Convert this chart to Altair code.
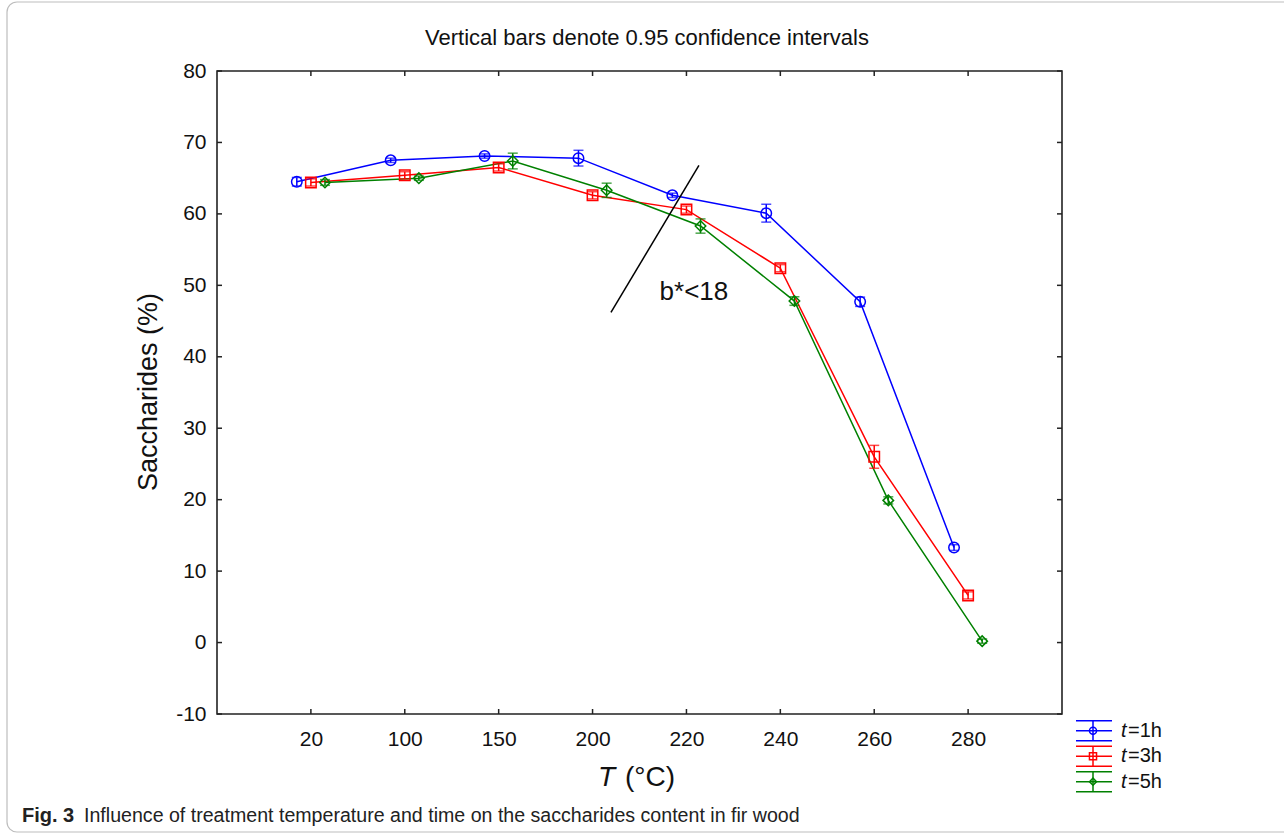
import altair as alt
import pandas as pd

# ---------------- data ----------------
categories = ["20", "100", "150", "200", "220", "240", "260", "280"]
series_names = ["t=1h", "t=3h", "t=5h"]
series_colors = ["#0000FF", "#FF0000", "#008000"]
series_shapes = ["circle", "square", "diamond"]

mean_1h = [64.5, 67.5, 68.1, 67.8, 62.6, 60.1, 47.7, 13.3]
ci_1h = [0.6, 0.3, 0.3, 1.1, 0.3, 1.25, 0.65, 0.4]
mean_3h = [64.4, 65.4, 66.5, 62.6, 60.6, 52.4, 26.0, 6.6]
ci_3h = [0.5, 0.5, 0.5, 0.5, 0.5, 0.5, 1.6, 0.5]
mean_5h = [64.4, 65.0, 67.4, 63.3, 58.3, 47.8, 19.9, 0.2]
ci_5h = [0.4, 0.3, 1.1, 1.0, 1.0, 0.6, 0.5, 0.3]

y_ticks = [-10, 0, 10, 20, 30, 40, 50, 60, 70, 80]

annot_x = [4.196, 5.133]
annot_y = [46.2, 66.8]
annot_label = "b*<18"
annot_label_pos = (5.08, 49.0)

title_text = "Vertical bars denote 0.95 confidence intervals"
caption_bold = "Fig. 3"
caption_text = "Influence of treatment temperature and time on the saccharides content in fir wood"

# ---------------- layout ----------------
W, H = 845, 643
offsets = {"t=1h": -0.15, "t=3h": 0.0, "t=5h": 0.15}
FONT = "Liberation Sans"

rows = []
for name, means, cis in [("t=1h", mean_1h, ci_1h), ("t=3h", mean_3h, ci_3h), ("t=5h", mean_5h, ci_5h)]:
    for i, (m, c) in enumerate(zip(means, cis)):
        rows.append({"series": name, "cat": categories[i], "idx": i + 1,
                     "xpos": i + 1 + offsets[name], "mean": m, "lo": m - c, "hi": m + c})
df = pd.DataFrame(rows)

xscale = alt.Scale(domain=[0, len(categories) + 1], nice=False, zero=False)
yscale = alt.Scale(domain=[-10, 80], nice=False, zero=False)
cscale = alt.Scale(domain=series_names, range=series_colors)
sscale = alt.Scale(domain=series_names, range=series_shapes)

label_arr = "[" + ",".join("'" + c + "'" for c in categories) + "]"
xaxis = alt.Axis(values=list(range(1, len(categories) + 1)), labelExpr=label_arr + "[datum.value-1]",
                 ticks=False, tickSize=0, domain=False, grid=False, title=None,
                 labelFontSize=21, labelFont=FONT, labelColor="#111", labelPadding=14)
yaxis = alt.Axis(values=y_ticks, labelExpr="'' + datum.value", ticks=False, tickSize=0, domain=False,
                 grid=False, title=None,
                 labelFontSize=21, labelFont=FONT, labelColor="#111", labelPadding=11)

X = alt.X("xpos:Q", scale=xscale, axis=xaxis)
base = alt.Chart(df)

lines = base.mark_line(strokeWidth=1.5).encode(
    x=X, y=alt.Y("mean:Q", scale=yscale, axis=yaxis),
    color=alt.Color("series:N", scale=cscale, legend=None), detail="series:N")

bars = base.mark_rule(strokeWidth=1.5).encode(
    x=alt.X("xpos:Q", scale=xscale), y=alt.Y("lo:Q", scale=yscale), y2="hi:Q",
    color=alt.Color("series:N", scale=cscale, legend=None))

cap_lo = base.mark_tick(orient="horizontal", size=10, thickness=1.5).encode(
    x=alt.X("xpos:Q", scale=xscale), y=alt.Y("lo:Q", scale=yscale),
    color=alt.Color("series:N", scale=cscale, legend=None))
cap_hi = base.mark_tick(orient="horizontal", size=10, thickness=1.5).encode(
    x=alt.X("xpos:Q", scale=xscale), y=alt.Y("hi:Q", scale=yscale),
    color=alt.Color("series:N", scale=cscale, legend=None))

points = base.mark_point(filled=False, size=110, strokeWidth=1.5, opacity=1).encode(
    x=alt.X("xpos:Q", scale=xscale), y=alt.Y("mean:Q", scale=yscale),
    color=alt.Color("series:N", scale=cscale, legend=None),
    shape=alt.Shape("series:N", scale=sscale, legend=None))

annot_df = pd.DataFrame({"x": annot_x, "y": annot_y})
annot_line = alt.Chart(annot_df).mark_line(color="black", strokeWidth=1.5).encode(
    x=alt.X("x:Q", scale=xscale), y=alt.Y("y:Q", scale=yscale))
annot_txt_df = pd.DataFrame({"x": [annot_label_pos[0]], "y": [annot_label_pos[1]], "t": [annot_label]})
annot_text = alt.Chart(annot_txt_df).mark_text(fontSize=26, font=FONT, color="#111").encode(
    x=alt.X("x:Q", scale=xscale), y=alt.Y("y:Q", scale=yscale), text="t:N")

# inward frame ticks
xt_df = pd.DataFrame({"xt": list(range(1, len(categories) + 1))})
yt_df = pd.DataFrame({"yt": y_ticks})
tick_style = dict(color="#222", strokeWidth=1.5)
tb = alt.Chart(xt_df).mark_rule(**tick_style).encode(
    x=alt.X("xt:Q", scale=xscale), y=alt.value(H), y2=alt.value(H - 5))
tt = alt.Chart(xt_df).mark_rule(**tick_style).encode(
    x=alt.X("xt:Q", scale=xscale), y=alt.value(0), y2=alt.value(5))
tl = alt.Chart(yt_df).mark_rule(**tick_style).encode(
    y=alt.Y("yt:Q", scale=yscale), x=alt.value(0), x2=alt.value(5))
tr = alt.Chart(yt_df).mark_rule(**tick_style).encode(
    y=alt.Y("yt:Q", scale=yscale), x=alt.value(W), x2=alt.value(W - 5))

one = pd.DataFrame({"a": [0]})


def txt(text, x, y, size, align="center", weight="normal", style="normal", angle=0, font=FONT, color="#111"):
    kw = dict(text=text, fontSize=size, align=align, baseline="middle", fontWeight=weight,
              fontStyle=style, font=font, color=color)
    if angle:
        kw["angle"] = angle
    return alt.Chart(one).mark_text(**kw).encode(x=alt.value(x), y=alt.value(y))


texts = [
    txt(title_text, 430, -33, 22),
    txt("Saccharides (%)", -68, 321, 27, angle=270),
    txt("T", 398, 707, 28, align="right", style="italic"),
    txt("(°C)", 408, 707, 28, align="left"),
    txt(caption_bold, -195, 745, 20, align="left", weight="bold", color="#222"),
    txt(caption_text, -133, 745, 19.6, align="left", color="#222"),
]

# legend (drawn like the error-bar glyph)
legend_layers = []
for i, (name, col, shp) in enumerate(zip(series_names, series_colors, series_shapes)):
    ym = 659.7 + 25.5 * i
    lx0, lx1, lxc = 859, 895, 876
    d = pd.DataFrame({"series": [name]})
    for yy in (ym - 10, ym, ym + 10):
        legend_layers.append(alt.Chart(d).mark_rule(color=col, strokeWidth=1.5).encode(
            x=alt.value(lx0), x2=alt.value(lx1), y=alt.value(yy)))
    legend_layers.append(alt.Chart(d).mark_rule(color=col, strokeWidth=1.5).encode(
        x=alt.value(lxc), y=alt.value(ym - 10), y2=alt.value(ym + 10)))
    legend_layers.append(alt.Chart(d).mark_point(shape=shp, filled=False, size=50, color=col,
                                                 strokeWidth=1.5, opacity=1).encode(
        x=alt.value(lxc), y=alt.value(ym)))
    legend_layers.append(txt("t", 904, ym, 20, align="left", style="italic"))
    legend_layers.append(txt(name[1:], 911, ym, 20, align="left"))

border = alt.Chart(one).mark_rect(fill=None, stroke="#bdbdbd", strokeWidth=1.2, cornerRadius=10).encode(
    x=alt.value(-210), x2=alt.value(1080), y=alt.value(-69), y2=alt.value(761))

chart = alt.layer(
    border, lines, bars, cap_lo, cap_hi, points, annot_line, annot_text,
    tb, tt, tl, tr, *texts, *legend_layers
).properties(
    width=W, height=H,
    autosize=alt.AutoSizeParams(type="none"),
    padding={"left": 217, "top": 71, "right": 1284 - 217 - W, "bottom": 837 - 71 - H},
    background="white",
).configure_view(stroke="#222", strokeWidth=1.6)

chart.save("out.html", embed_options={"renderer": "svg", "actions": False})
